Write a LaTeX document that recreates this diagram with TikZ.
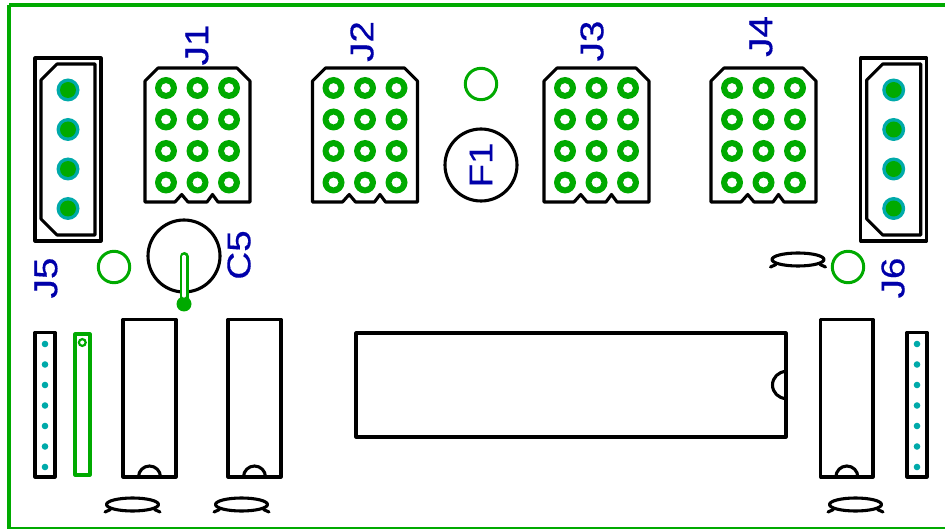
\documentclass[tikz,border=0pt]{standalone}
\usepackage{fontspec}
\setmainfont[FakeStretch=1.17,FakeBold=0.35]{Liberation Sans}
\definecolor{pcbgreen}{RGB}{0,170,0}
\definecolor{pcbteal}{RGB}{0,170,170}
\definecolor{pcbblue}{RGB}{0,0,170}
\tikzset{
  outline/.style={draw=black,line width=3.1pt,line join=round,line cap=round},
  thinout/.style={draw=black,line width=3.1pt,line join=round,line cap=round},
  via/.style={draw=pcbgreen,line width=3pt},
  edgeline/.style={draw=pcbgreen,line width=3.4pt},
  ref/.style={text=pcbblue,font=\fontsize{33}{33}\selectfont,rotate=90,inner sep=0pt,anchor=center},
}
\newcommand{\hdrpart}[1]{%
  \begin{scope}[shift={(#1,0)}]
    \draw[outline] (145,81) -- (158,68) -- (237,68) -- (250,81) -- (250,202) -- (218,202) -- (212.5,194.5) -- (207,202) -- (188,202) -- (181.7,194.5) -- (175,202) -- (145,202) -- cycle;
    \foreach \px in {166,197.5,229} \foreach \py in {88,119.5,151,182.5} {
      \fill[pcbgreen,even odd rule] (\px,\py) circle[radius=11] (\px,\py) circle[radius=5];
    }
  \end{scope}}
\newcommand{\powerpart}[1]{%
  \begin{scope}[shift={(#1,0)}]
    \draw[outline] (35,58) rectangle (101,241);
    \draw[outline] (57,64) -- (95,64) -- (95,235) -- (57,235) -- (41,219) -- (41,80) -- cycle;
    \foreach \py in {90,129.5,169,208.5} {
      \fill[pcbteal] (68,\py) circle[radius=11.5];
      \fill[pcbgreen] (68,\py) circle[radius=8];
    }
  \end{scope}}
\newcommand{\dippart}[2]{%
  \draw[outline] (#1,319.5) rectangle (#2,477);
  \draw[outline] ({(#1+#2)/2-11},477) arc[start angle=180,end angle=360,radius=11];}
\newcommand{\strippart}[1]{%
  \draw[outline] (#1,332.5) rectangle ({#1+20},477);
  \foreach \py in {344,364.5,385,405.5,426,446.5,467} \fill[pcbteal] ({#1+10},\py) circle[radius=3.3];}
\newcommand{\caplead}[2]{%
  \draw[thinout] (#1,#2-0.5) ellipse[x radius=26,y radius=6.5];
  \draw[thinout] ({#1-27.5},#2+7) -- ({#1-22},#2+4.5);
  \draw[thinout] ({#1+27.5},#2+7) -- ({#1+22},#2+4.5);}
\begin{document}
\begin{tikzpicture}[x=1pt,y=-1pt]
  \useasboundingbox (0,0) rectangle (945,529);
  \fill[white] (0,0) rectangle (945,529);
  \draw[edgeline] (9,5) -- (960,5);
  \draw[edgeline] (9,5) -- (9,528.5) -- (960,528.5);

  \hdrpart{0}\hdrpart{167.5}\hdrpart{399}\hdrpart{566}
  \powerpart{0}\powerpart{825.7}

  \draw[via] (481,84) circle[radius=15.7];
  \draw[via] (114,267) circle[radius=15.7];
  \draw[via] (848,267) circle[radius=15.7];

  \draw[thinout] (481,165) circle[radius=36];
  \draw[thinout] (184,256) circle[radius=36];
  \draw[pcbgreen,line width=9pt,line cap=round] (184,256.5) -- (184,300);
  \fill[pcbgreen] (184,304) circle[radius=7.5];
  \draw[white,line width=3.2pt,line cap=round] (184,256.5) -- (184,296);

  \strippart{35}\strippart{907}
  \draw[pcbgreen,line width=3.05pt,line join=round] (75,334) rectangle (90,475);
  \draw[pcbgreen,line width=2.2pt] (82.3,342.5) circle[radius=3.4];

  \dippart{123}{176}\dippart{228}{281}\dippart{820.7}{873}
  \draw[outline] (356,333) rectangle (786,437);
  \draw[outline] (786,398.5) arc[start angle=90,end angle=270,radius=13.5];

  \caplead{132.5}{505}\caplead{241.5}{505}\caplead{855.5}{505}\caplead{798}{260}

  \node[ref] (J1) at (197,45) {J1};
  \node[ref] (J2) at (362,41.5) {J2};
  \node[ref] (J3) at (592,41) {J3};
  \node[ref] (J4) at (761,36.5) {J4};
  \node[ref] (F1) at (481,165) {F1};
  \node[ref] (C5) at (239,255) {C5};
  \node[ref] (J5) at (46,278) {J5};
  \node[ref] (J6) at (893,278) {J6};
\end{tikzpicture}
\end{document}
